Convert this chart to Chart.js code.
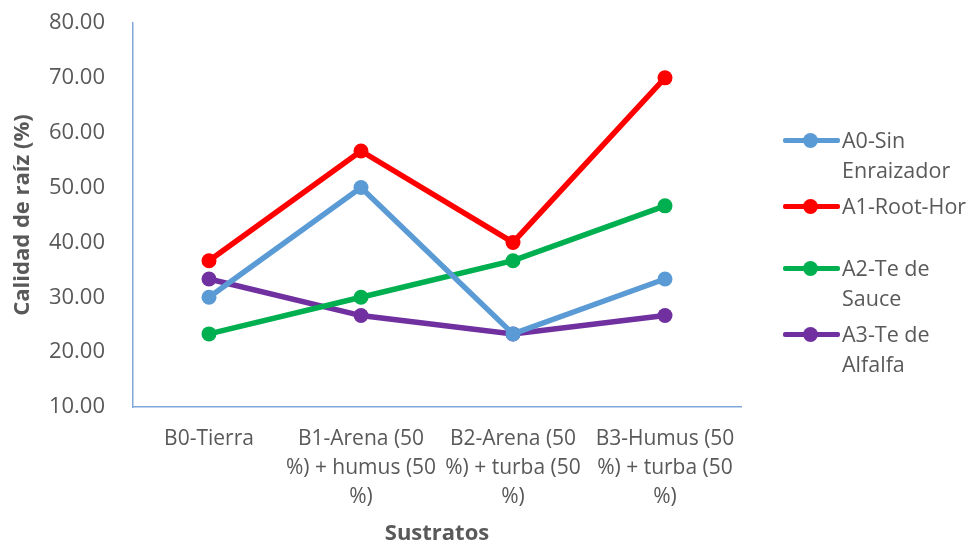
<!DOCTYPE html>
<html>
<head>
<meta charset="utf-8">
<script src="https://cdn.jsdelivr.net/npm/chart.js@4"></script>
<style>
  html, body { margin: 0; padding: 0; background: #ffffff; }
  #wrap { position: relative; width: 968px; height: 547px; }
  #chart { position: absolute; left: 0; top: 0; }
  #legend { position: absolute; left: 783px; top: 0; font-family: "Open Sans", sans-serif; font-size: 21.5px; color: #595959; }
  .item { position: absolute; left: 0; width: 190px; }
  .swatch { position: absolute; left: 0; width: 57px; height: 5px; border-radius: 2px; }
  .swatch i { position: absolute; left: 20px; top: -5px; width: 15px; height: 15px; border-radius: 50%; }
  .txt { position: absolute; left: 59px; line-height: 30px; white-space: nowrap; }
</style>
</head>
<body>
<div id="wrap">
  <canvas id="chart" width="968" height="547"></canvas>
  <div id="legend"></div>
</div>
<script>
// Substrates on the x axis (wrapped like the printed labels)
const categories = [
  ["B0-Tierra"],
  ["B1-Arena (50", "%) + humus (50", "%)"],
  ["B2-Arena (50", "%) + turba (50", "%)"],
  ["B3-Humus (50", "%) + turba (50", "%)"]
];

// Root quality (%) per rooting treatment
const seriesNames = ["A0-Sin Enraizador", "A1-Root-Hor", "A2-Te de Sauce", "A3-Te de Alfalfa"];
const a0Values = [30.00, 50.00, 23.33, 33.33];
const a1Values = [36.67, 56.67, 40.00, 70.00];
const a2Values = [23.33, 30.00, 36.67, 46.67];
const a3Values = [33.33, 26.67, 23.33, 26.67];

// Legend labels as they wrap in the side legend
const legendLines = [
  ["A0-Sin", "Enraizador"],
  ["A1-Root-Hor"],
  ["A2-Te de", "Sauce"],
  ["A3-Te de", "Alfalfa"]
];

const colors = ["#5B9BD5", "#FF0000", "#00B050", "#7030A0"];
const seriesValues = [a0Values, a1Values, a2Values, a3Values];

const FONT = "'Open Sans', sans-serif";
const TEXT = "#595959";
const AXIS = "#7FA7D9";

const datasets = seriesValues.map((vals, i) => ({
  label: seriesNames[i],
  data: vals,
  borderColor: colors[i],
  backgroundColor: colors[i],
  borderWidth: 5.5,
  pointRadius: 7.5,
  pointHoverRadius: 7.5,
  pointBorderWidth: 0,
  tension: 0
}));

new Chart(document.getElementById("chart"), {
  type: "line",
  data: { labels: categories, datasets },
  options: {
    responsive: false,
    animation: false,
    layout: { padding: { left: 0, right: 227, top: 23, bottom: 0 } },
    plugins: { legend: { display: false }, tooltip: { enabled: false } },
    scales: {
      x: {
        offset: true,
        grid: { display: false, drawTicks: false },
        border: { display: true, color: AXIS, width: 1.5 },
        ticks: { color: TEXT, font: { family: FONT, size: 21, lineHeight: 1.38 }, padding: 18, maxRotation: 0, autoSkip: false },
        title: { display: true, text: "Sustratos", color: TEXT, font: { family: FONT, size: 22, weight: "bold", lineHeight: 1.2 }, padding: { top: 0, bottom: 0 } },
        afterFit: (s) => { s.height = 140; s.paddingLeft = 0; s.paddingRight = 0; }
      },
      y: {
        min: 10, max: 80,
        grid: { display: false, drawTicks: false },
        border: { display: true, color: AXIS, width: 1.5 },
        ticks: { stepSize: 10, color: TEXT, font: { family: FONT, size: 22 }, padding: 28, callback: (v) => Number(v).toFixed(2) },
        title: { display: true, text: "Calidad de raíz (%)", color: TEXT, font: { family: FONT, size: 22, weight: "bold", lineHeight: 1.2 }, padding: { top: 10, bottom: 0 } },
        afterFit: (s) => { s.width = 133; s.paddingTop = 0; s.paddingBottom = 0; }
      }
    }
  }
});

// Side legend: sample line with marker and wrapped label
const legendTops = [125, 191, 253, 319];
const legend = document.getElementById("legend");
legendLines.forEach((lines, i) => {
  const item = document.createElement("div");
  item.className = "item";
  item.style.top = legendTops[i] + "px";
  const sw = document.createElement("div");
  sw.className = "swatch";
  sw.style.top = "13px";
  sw.style.background = colors[i];
  const dot = document.createElement("i");
  dot.style.background = colors[i];
  sw.appendChild(dot);
  const txt = document.createElement("div");
  txt.className = "txt";
  txt.style.top = "0px";
  txt.innerHTML = lines.join("<br>");
  item.appendChild(sw);
  item.appendChild(txt);
  legend.appendChild(item);
});
</script>
</body>
</html>
